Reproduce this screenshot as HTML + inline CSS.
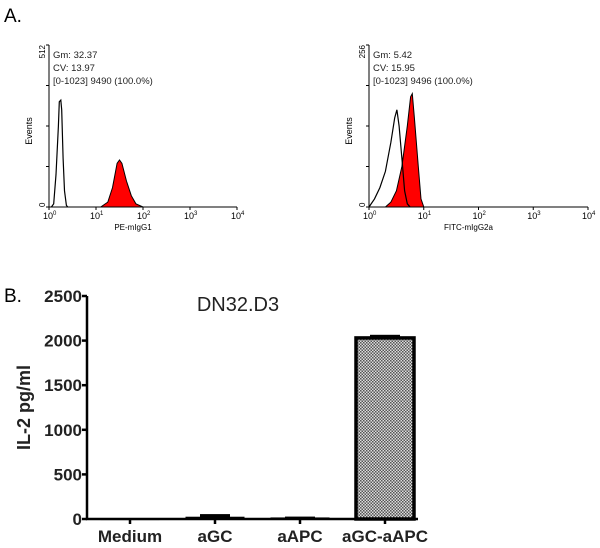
<!DOCTYPE html>
<html><head><meta charset="utf-8"><style>
body{margin:0;background:#fff}
svg text{font-family:"Liberation Sans",sans-serif}
</style></head><body>
<svg id="fig" width="600" height="543" viewBox="0 0 600 543">
<defs>
<pattern id="chk" width="3" height="3" patternUnits="userSpaceOnUse"><rect width="3" height="3" fill="#ddd"/><rect width="1.5" height="1.5" fill="#555"/><rect x="1.5" y="1.5" width="1.5" height="1.5" fill="#555"/></pattern>
</defs>
<text x="4" y="22" font-size="19">A.</text>
<text x="4" y="302" font-size="19">B.</text>
<g id="pa"></g><g id="pb"></g>
</svg>
<script>
// Histogram data: [log10 intensity, fraction of axis max]
const leftIso=[[0.05,0],[0.1,0.02],[0.15,0.2],[0.2,0.5],[0.22,0.65],[0.25,0.66],[0.27,0.6],[0.3,0.3],[0.33,0.1],[0.37,0.01],[0.4,0]];
const leftStain=[[1.1,0],[1.25,0.03],[1.35,0.12],[1.45,0.27],[1.5,0.29],[1.55,0.27],[1.65,0.16],[1.75,0.07],[1.85,0.02],[2.0,0]];
const rightIso=[[0,0],[0.1,0.05],[0.2,0.12],[0.3,0.22],[0.4,0.4],[0.47,0.55],[0.51,0.6],[0.55,0.5],[0.6,0.3],[0.65,0.1],[0.7,0.02],[0.75,0]];
const rightStain=[[0.3,0],[0.4,0.03],[0.5,0.1],[0.6,0.25],[0.7,0.5],[0.76,0.68],[0.79,0.7],[0.83,0.55],[0.9,0.25],[0.95,0.05],[1.0,0]];
const decadeTicks=["10","10","10","10","10"];
const decadeExp=["0","1","2","3","4"];
// Bar chart data
const categories=["Medium","aGC","aAPC","aGC-aAPC"];
const values=[5,20,12,2030];
const errors=[3,35,15,35];
const yTicks=[0,500,1000,1500,2000,2500];

const NS="http://www.w3.org/2000/svg";
function mk(tag,attrs,parent,txt){const e=document.createElementNS(NS,tag);for(const k in attrs)e.setAttribute(k,attrs[k]);if(txt!==undefined)e.textContent=txt;parent.appendChild(e);return e;}

function hist(g,x0,x1,y0,y1,ymaxLabel,stats,xlabel,iso,stain,name){
  const sx=v=>x0+v/4*(x1-x0), sy=f=>y0-f*(y0-y1);
  const ax=mk('path',{d:`M${x0},${y1} V${y0} H${x1}`,stroke:'#000','stroke-width':1,fill:'none'},g);
  
  
  for(let i=0;i<=4;i++){
    mk('line',{x1:x0-3,x2:x0,y1:sy(i/4),y2:sy(i/4),stroke:'#000'},g);
    const t=mk('text',{x:sx(i)-6,y:y0+12,'font-size':9},g,decadeTicks[i]);
    
    
    mk('tspan',{dy:-4,'font-size':6},t,decadeExp[i]);
    mk('line',{x1:sx(i),x2:sx(i),y1:y0,y2:y0+3,stroke:'#000'},g);
  }
  const ym=mk('text',{transform:`translate(${x0-4},${y1}) rotate(-90)`,'font-size':8,'text-anchor':'end'},g,ymaxLabel);
  
  
  const z=mk('text',{transform:`translate(${x0-4},${y0}) rotate(-90)`,'font-size':8},g,'0');
  
  
  const ev=mk('text',{transform:`translate(${x0-17},${(y0+y1)/2+5}) rotate(-90)`,'font-size':9,'text-anchor':'middle'},g,'Events');
  
  
  const xl=mk('text',{x:(x0+x1)/2-10,y:y0+23,'font-size':8,'text-anchor':'middle'},g,xlabel);
  
  
  stats.forEach((s,i)=>{const t=mk('text',{x:x0+4,y:y1+13+i*13,'font-size':9.5,fill:'#222'},g,s);
    
    });
  const pts=a=>a.map(p=>`${sx(p[0]).toFixed(1)},${sy(p[1]).toFixed(1)}`).join(' ');
  const r=mk('polygon',{points:pts(stain),fill:'#f00',stroke:'#000','stroke-width':1},g);
  
  
  const w=mk('polyline',{points:pts(iso),fill:'none',stroke:'#000','stroke-width':1.2},g);
  
  
}
const pa=document.getElementById('pa');
const gl=mk('g',{},pa);
hist(gl,49,237,207,45,'512',['Gm:   32.37','CV:   13.97','[0-1023] 9490    (100.0%)'],'PE-mIgG1',leftIso,leftStain,'pe');
const gr=mk('g',{},pa);
hist(gr,369,588,207,45,'256',['Gm:    5.42','CV:   15.95','[0-1023] 9496    (100.0%)'],'FITC-mIgG2a',rightIso,rightStain,'fitc');

// Panel B
const pb=document.getElementById('pb');
const X0=87,X1=418,Y0=519,Y1=296,step=85,first=130,bw=58;
const sy=v=>Y0-v/2500*(Y0-Y1);
const axb=mk('path',{d:`M${X0},${Y1} V${Y0} H${X1}`,stroke:'#000','stroke-width':2.5,fill:'none'},pb);


yTicks.forEach(v=>{mk('line',{x1:X0-5,x2:X0,y1:sy(v),y2:sy(v),stroke:'#000','stroke-width':2.5},pb);
  const t=mk('text',{x:X0-5,y:sy(v)+6,'font-size':17,'font-weight':'bold','text-anchor':'end',fill:'#222'},pb,String(v));
  
  });
categories.forEach((c,i)=>{
  const cx=first+i*step;
  mk('line',{x1:cx,x2:cx,y1:Y0,y2:Y0+5,stroke:'#000','stroke-width':2.5},pb);
  const t=mk('text',{x:cx,y:Y0+23,'font-size':17,'font-weight':'bold','text-anchor':'middle',fill:'#222'},pb,c);
  
  
  const h=Y0-sy(values[i]);
  const b=mk('rect',{x:cx-bw/2,y:sy(values[i]),width:bw,height:Math.max(h,1),fill:i==3?'url(#chk)':'#000',stroke:'#000','stroke-width':i==3?3.5:1},pb);
  
  
  const ew=i==0?0:15;
  const e=mk('rect',{x:cx-ew,y:sy(values[i]+errors[i]),width:ew*2,height:Y0-sy(errors[i]),fill:'#000'},pb);
  
  
});
const tt=mk('text',{x:238,y:311,'font-size':20,'text-anchor':'middle',fill:'#222'},pb,'DN32.D3');


const yt=mk('text',{transform:`translate(30,${(Y0+Y1)/2}) rotate(-90)`,'font-size':18,'font-weight':'bold','text-anchor':'middle',fill:'#222'},pb,'IL-2 pg/ml');


</script>
</body></html>
